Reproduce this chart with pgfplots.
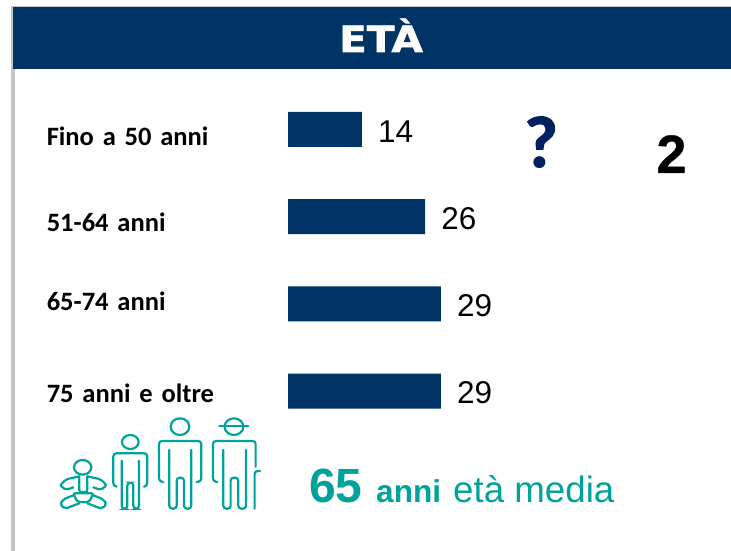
\documentclass[border=0pt]{standalone}
\usepackage{pgfplots}
\pgfplotsset{compat=1.18}
\usepackage{fontspec}
\setmainfont{Liberation Sans}
\newfontfamily\carlitob[WordSpace=0.7]{Carlito Bold}
\newfontfamily\carlitofat[FakeBold=1.5]{Carlito Bold}
\newfontfamily\dejavu[FakeBold=1.5]{DejaVu Sans Bold}
\newfontfamily\arialfat[FakeBold=0.6]{Liberation Sans Bold}
\definecolor{navy}{HTML}{003366}
\definecolor{qnavy}{HTML}{002060}
\definecolor{teal2}{HTML}{00A39B}
\definecolor{bord}{HTML}{C4C4C4}
\newcommand{\fs}[1]{\fontsize{#1pt}{#1pt}\selectfont}
\begin{document}
\begin{tikzpicture}[x=1pt,y=1pt]
\useasboundingbox (0,0) rectangle (731,551);
\fill[white] (0,0) rectangle (731,551);
% frame and banner
\fill[bord] (11,0) rectangle (15,545);
\fill[bord] (11,543.5) rectangle (731,545);
\fill[navy] (13,482) rectangle (731,543.5);
\node[white,anchor=base,inner sep=0pt] at (381,499) {\scalebox{1.13}[1]{\dejavu\fs{36}ETÀ}};
\begin{axis}[
  at={(288pt,116.4pt)},anchor=south west,
  scale only axis,width=312pt,height=348.7pt,
  xmin=0,xmax=59.14,ymin=-0.5,ymax=3.5,y dir=reverse,
  axis line style={draw=none},
  xtick=\empty,ytick={0,1,2,3},
  yticklabels={\raisebox{-8.5pt}{Fino a 50 anni},\raisebox{-7pt}{51-64 anni},\raisebox{1pt}{65-74 anni},\raisebox{-3pt}{75 anni e oltre}},
  major tick length=0pt,
  yticklabel style={anchor=east,inner sep=0pt,text width=241pt,align=left,text height=16pt,text depth=0pt,font=\carlitob\fs{26.5}},
  xbar,bar width=35pt,
  nodes near coords,
  /pgf/number format/assume math mode=true,
  nodes near coords style={anchor=west,inner sep=0pt,xshift=16pt,yshift=-2pt,font=\fs{31.5},text=black},
  clip=false,
]
\addplot[fill=navy,draw=none] coordinates {(14,0) (26,1) (29,2) (29,3)};
\end{axis}
% right-hand marks
\node[qnavy,anchor=base,inner sep=0pt] at (541,384) {\carlitofat\fs{73}?};
\node[black,anchor=base,inner sep=0pt] at (671.5,378) {\arialfat\fs{54}2};
% bottom text
\node[teal2,anchor=base west,inner sep=0pt] at (309,48.5) {\bfseries\fs{48}65};
\node[teal2,anchor=base west,inner sep=0pt] at (376,48) {\bfseries\fs{31.6}anni};
\node[teal2,anchor=base west,inner sep=0pt] at (453,48) {\fs{36.7}età media};
% people icons (coordinates in 3x crop units)
\begin{scope}[xshift=30pt,yshift=141pt,x=0.3333pt,y=-0.3333pt,draw=teal2,line width=2.2pt,line cap=round]
% baby
\begin{scope}[rounded corners=2pt]
\draw (158,172) ellipse [x radius=26,y radius=22];
\draw (148,200)--(148,246)--(172,246)--(172,200);
\draw (148,199)--(108,208)--(90,226)--(108,240)--(130,232);
\draw (172,199)--(212,208)--(230,226)--(212,240)--(190,232);
\draw (130,250)--(190,250)--(178,276)--(142,276)--cycle;
\draw (130,256)--(100,268)--(90,284)--(106,296)--(148,280);
\draw (190,256)--(220,268)--(230,284)--(214,296)--(172,280);
\end{scope}
\begin{scope}[rounded corners=3pt]
% child
\draw (301,96) ellipse [x radius=25,y radius=21];
\draw (260,230)--(250,228)--(250,130)--(352,130)--(352,228)--(342,230);
\draw (275,152)--(275,296)--(292,296)--(292,218)--(310,218)--(310,296)--(327,296)--(327,152);
% adult
\draw (450,50) ellipse [x radius=28,y radius=25];
\draw (400,216)--(387,214)--(387,93)--(514,93)--(514,214)--(500,216);
\draw (418,120)--(418,296)--(440,296)--(440,203)--(462,203)--(462,296)--(484,296)--(484,120);
% elder
\draw (612,50) ellipse [x radius=28,y radius=25];
\draw (568,48)--(655,48);
\draw (562,216)--(549,214)--(549,93)--(677,93)--(677,170);
\draw (580,120)--(580,296)--(602,296)--(602,203)--(625,203)--(625,296)--(648,296)--(648,120);
\draw (674,296)--(674,183)--(690,183);
\end{scope}
\end{scope}
\end{tikzpicture}
\end{document}
